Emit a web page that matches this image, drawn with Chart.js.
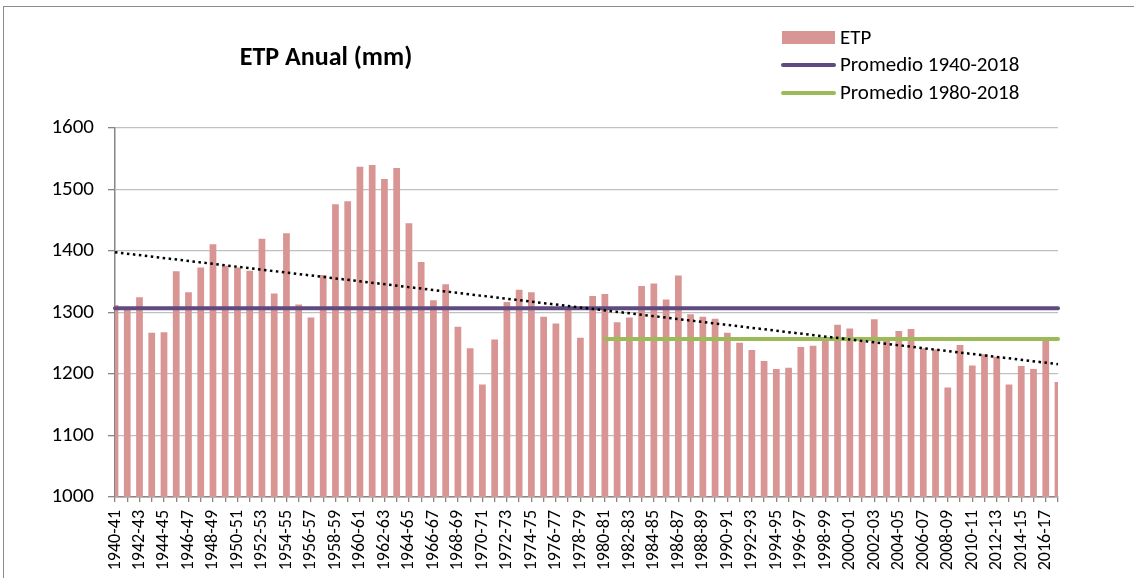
<!DOCTYPE html>
<html>
<head>
<meta charset="utf-8">
<script src="https://cdn.jsdelivr.net/npm/chart.js@4.4.1/dist/chart.umd.min.js"></script>
<style>
  html, body { margin: 0; padding: 0; background: #fff; }
  #wrap { width: 1134px; height: 578px; position: relative; }
</style>
</head>
<body>
<div id="wrap"><canvas id="c" width="1134" height="578"></canvas></div>
<script>
// Hydrological years 1940-41 .. 2017-18
const years = [
  '1940-41','1941-42','1942-43','1943-44','1944-45','1945-46','1946-47','1947-48','1948-49','1949-50',
  '1950-51','1951-52','1952-53','1953-54','1954-55','1955-56','1956-57','1957-58','1958-59','1959-60',
  '1960-61','1961-62','1962-63','1963-64','1964-65','1965-66','1966-67','1967-68','1968-69','1969-70',
  '1970-71','1971-72','1972-73','1973-74','1974-75','1975-76','1976-77','1977-78','1978-79','1979-80',
  '1980-81','1981-82','1982-83','1983-84','1984-85','1985-86','1986-87','1987-88','1988-89','1989-90',
  '1990-91','1991-92','1992-93','1993-94','1994-95','1995-96','1996-97','1997-98','1998-99','1999-00',
  '2000-01','2001-02','2002-03','2003-04','2004-05','2005-06','2006-07','2007-08','2008-09','2009-10',
  '2010-11','2011-12','2012-13','2013-14','2014-15','2015-16','2016-17','2017-18'
];

// Annual ETP (mm)
const etp = [
  1312, 1305, 1325, 1267, 1268, 1367, 1333, 1373, 1411, 1376,
  1373, 1368, 1420, 1331, 1429, 1313, 1292, 1361, 1476, 1481,
  1537, 1540, 1517, 1535, 1445, 1382, 1320, 1346, 1277, 1242,
  1183, 1256, 1317, 1337, 1333, 1293, 1282, 1308, 1259, 1327,
  1330, 1284, 1292, 1343, 1347, 1321, 1360, 1297, 1293, 1290,
  1267, 1251, 1239, 1221, 1208, 1210, 1244, 1246, 1260, 1280,
  1274, 1258, 1289, 1254, 1270, 1273, 1242, 1240, 1178, 1247,
  1214, 1232, 1228, 1183, 1213, 1208, 1255, 1187
];

// Period averages (mm)
const mean1940 = 1307;
const mean1980 = 1257;
const mean1980Start = '1980-81';

// Linear trend: value at the first and the last year
const trendEnds = [1398, 1216];

// Y axis tick values
const yTicks = [1000, 1100, 1200, 1300, 1400, 1500, 1600];

const FONT = 'Calibri, Carlito, Lato, sans-serif';
const startIdx = years.indexOf(mean1980Start);

const line1940 = years.map(() => mean1940);
const line1980 = years.map((y, i) => i >= startIdx ? mean1980 : null);
const trendData = years.map((y, i) =>
  i === 0 ? trendEnds[0] : (i === years.length - 1 ? trendEnds[1] : null));

// Outer frame of the chart object
const framePlugin = {
  id: 'frame',
  beforeDraw(chart) {
    const ctx = chart.ctx;
    ctx.save();
    ctx.fillStyle = '#fff';
    ctx.fillRect(0, 0, chart.width, chart.height);
    ctx.strokeStyle = '#8c8c8c';
    ctx.lineWidth = 1;
    ctx.strokeRect(3.5, 6.5, chart.width + 20, chart.height + 20);
    ctx.restore();
  }
};

// Title and legend drawn at fixed spots inside the frame
const headerPlugin = {
  id: 'header',
  afterDraw(chart) {
    const ctx = chart.ctx;
    ctx.save();
    ctx.fillStyle = '#000';
    ctx.font = 'bold 26px ' + FONT;
    ctx.textAlign = 'center';
    ctx.textBaseline = 'middle';
    ctx.fillText('ETP Anual (mm)', 326, 58);

    ctx.font = '21px ' + FONT;
    ctx.textAlign = 'left';
    const rows = [37.5, 65, 93];
    let r = 0;
    chart.data.datasets.forEach(ds => {
      if (!ds.inLegend) return;
      const y = rows[r++];
      if (ds.type === 'bar') {
        ctx.fillStyle = ds.backgroundColor;
        ctx.fillRect(782, y - 6.5, 53, 13);
      } else {
        ctx.strokeStyle = ds.borderColor;
        ctx.lineWidth = 4;
        ctx.lineCap = 'round';
        ctx.beginPath();
        ctx.moveTo(783, y);
        ctx.lineTo(834, y);
        ctx.stroke();
      }
      ctx.fillStyle = '#000';
      ctx.fillText(ds.label, 840, y + 1);
    });
    ctx.restore();
  }
};

new Chart(document.getElementById('c'), {
  data: {
    labels: years,
    datasets: [
      {
        type: 'bar', label: 'ETP', data: etp, inLegend: true,
        backgroundColor: '#d99594', borderWidth: 0,
        barPercentage: 0.55, categoryPercentage: 1.0, order: 4
      },
      {
        type: 'line', label: 'Promedio 1940-2018', data: line1940, inLegend: true,
        borderColor: '#5f4b7f', borderWidth: 4, pointRadius: 0,
        borderCapStyle: 'round', order: 3
      },
      {
        type: 'line', label: 'Promedio 1980-2018', data: line1980, inLegend: true,
        borderColor: '#9bbb59', borderWidth: 4, pointRadius: 0,
        borderCapStyle: 'round', order: 2
      },
      {
        type: 'line', label: 'Lineal (ETP)', data: trendData, inLegend: false,
        borderColor: '#000', borderWidth: 2.5, borderDash: [2.5, 3.5],
        pointRadius: 0, spanGaps: true, order: 1
      }
    ]
  },
  options: {
    responsive: false,
    animation: false,
    layout: { padding: { top: 128, right: 76, left: 0, bottom: 0 } },
    plugins: { legend: { display: false }, title: { display: false }, tooltip: { enabled: false } },
    scales: {
      x: {
        offset: false,
        grid: { offset: false, drawOnChartArea: false, tickColor: '#868686', tickLength: 5, lineWidth: 1.3 },
        border: { color: '#868686', width: 1.5 },
        ticks: {
          autoSkip: false, maxRotation: 90, minRotation: 90, padding: 8,
          color: '#000', font: { family: FONT, size: 18 },
          callback: function(v, i) { return i % 2 === 0 ? this.getLabelForValue(v) : ''; }
        },
        afterFit(s) { s.height = 81; }
      },
      y: {
        min: yTicks[0], max: yTicks[yTicks.length - 1],
        afterBuildTicks(s) { s.ticks = yTicks.map(v => ({ value: v })); },
        grid: { color: '#c0c0c0', lineWidth: 1.3, tickColor: '#868686', tickLength: 7 },
        border: { color: '#868686', width: 1.5 },
        ticks: {
          padding: 14, color: '#000', font: { family: FONT, size: 21 },
          callback: v => String(v)
        },
        afterFit(s) { s.width = 115; }
      }
    }
  },
  plugins: [framePlugin, headerPlugin]
});
</script>
</body>
</html>
